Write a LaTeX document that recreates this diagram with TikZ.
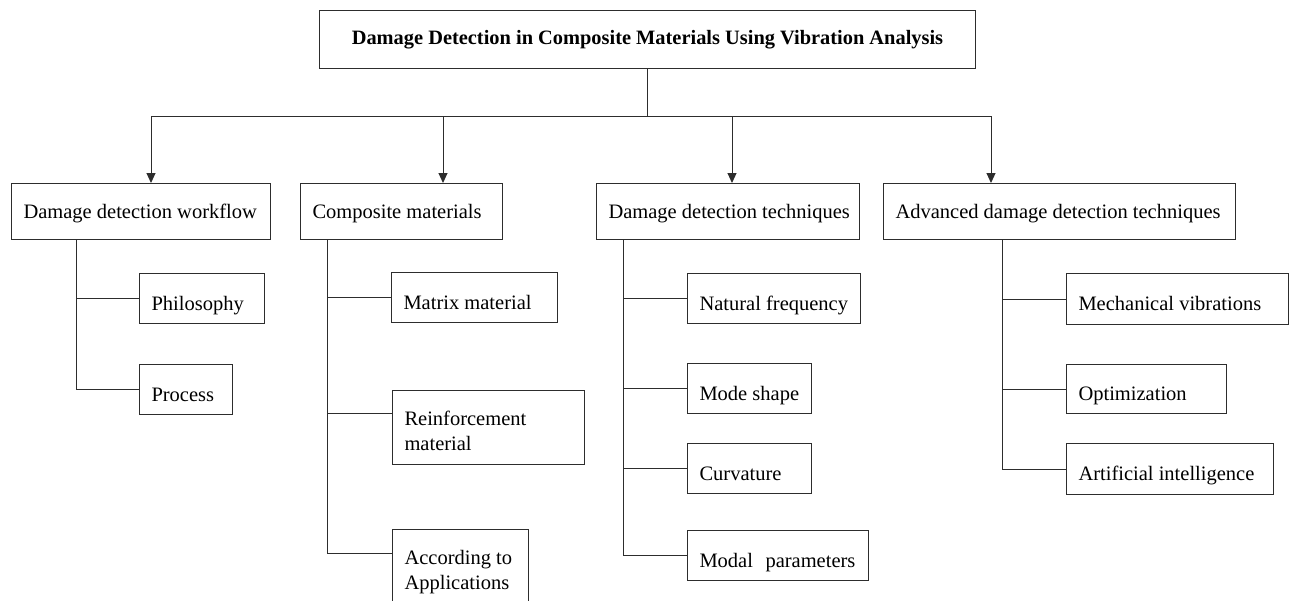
\documentclass[tikz,border=0pt]{standalone}
\usepackage{fontspec}
\setmainfont{Liberation Serif}
\usetikzlibrary{arrows.meta}
\definecolor{lc}{RGB}{45,45,45}
\newcommand\boxtxt[3]{\raisebox{-#1}[0pt][0pt]{\makebox[#2][l]{#3}}}
\newcommand\twolines[2]{\begin{tabular}[t]{@{}l@{}}#1\\#2\end{tabular}}
\begin{document}
\begin{tikzpicture}[x=1pt,y=-1pt,
  ln/.style={draw=lc,line width=1pt},
  arr/.style={ln,-{Triangle[length=10pt,width=9pt]}},
  bx/.style={draw=lc,line width=1pt,rectangle,anchor=north west,inner xsep=12pt,inner ysep=0pt,font=\fontsize{20.5}{25}\selectfont},
  ttl/.style={draw=lc,line width=1pt,rectangle,anchor=north west,inner sep=0pt,font=\fontsize{20.4}{24}\selectfont\bfseries}]
\useasboundingbox (0,0) rectangle (1290,600);
% title
\node[ttl,minimum width=656pt,minimum height=58pt] (title) at (319,10) {\raisebox{-5pt}[0pt][0pt]{Damage Detection in Composite Materials Using Vibration Analysis}};
% level 1
\node[bx,minimum height=56pt] (wf) at (11,183) {\boxtxt{7pt}{235pt}{Damage detection workflow}};
\node[bx,minimum height=56pt] (cm) at (300,183) {\boxtxt{7pt}{178pt}{Composite materials}};
\node[bx,minimum height=56pt] (ddt) at (596,183) {\boxtxt{7pt}{239pt}{Damage detection techniques}};
\node[bx,minimum height=56pt] (adv) at (883,183) {\boxtxt{7pt}{328pt}{Advanced damage detection techniques}};
% children
\node[bx,minimum height=50pt] (phil) at (139,273) {\boxtxt{11.5pt}{101pt}{Philosophy}};
\node[bx,minimum height=50pt] (proc) at (139,364) {\boxtxt{11.5pt}{69pt}{Process}};
\node[bx,minimum height=50pt] (mat) at (391,272) {\boxtxt{11.5pt}{142pt}{Matrix material}};
\node[bx,minimum height=74pt] (rein) at (392,390) {\boxtxt{-2pt}{168pt}{\twolines{Reinforcement}{material}}};
\node[bx,minimum height=85pt] (acc) at (392,529) {\boxtxt{-7.5pt}{112pt}{\twolines{According to}{Applications}}};
\node[bx,minimum height=50pt] (nat) at (687,273) {\boxtxt{11.5pt}{149pt}{Natural frequency}};
\node[bx,minimum height=50pt] (mode) at (687,363) {\boxtxt{11.5pt}{100pt}{Mode shape}};
\node[bx,minimum height=50pt] (curv) at (687,443) {\boxtxt{11.5pt}{100pt}{Curvature}};
\node[bx,minimum height=50pt] (modal) at (687,530) {\boxtxt{11.5pt}{157pt}{Modal\hspace{12.5pt}parameters}};
\node[bx,minimum height=51pt] (mech) at (1066,273) {\boxtxt{11.5pt}{198pt}{Mechanical vibrations}};
\node[bx,minimum height=49pt] (opt) at (1066,364) {\boxtxt{11.5pt}{136pt}{Optimization}};
\node[bx,minimum height=51pt] (ai) at (1066,443) {\boxtxt{11.5pt}{183pt}{Artificial intelligence}};
% bus
\coordinate (b1) at (151,116);
\coordinate (b2) at (443,116);
\coordinate (b3) at (732,116);
\coordinate (b4) at (991,116);
\draw[ln] (title.south) -- (title.south |- b1);
\draw[ln] (b1) -- (b4);
\draw[arr] (b1) -- (b1 |- wf.north);
\draw[arr] (b2) -- (b2 |- cm.north);
\draw[arr] (b3) -- (b3 |- ddt.north);
\draw[arr] (b4) -- (b4 |- adv.north);
% trunks
\coordinate (t1) at (76,0);
\coordinate (t2) at (327,0);
\coordinate (t3) at (623,0);
\coordinate (t4) at (1002,0);
\draw[ln] (t1 |- wf.south) -- (t1 |- proc.west) -- (proc.west);
\draw[ln] (t1 |- phil.west) -- (phil.west);
\coordinate (reinb) at ([yshift=-23pt]rein.north west);
\coordinate (accb) at ([yshift=-24pt]acc.north west);
\draw[ln] (t2 |- cm.south) -- (t2 |- accb) -- (accb);
\draw[ln] (t2 |- mat.west) -- (mat.west);
\draw[ln] (t2 |- reinb) -- (reinb);
\draw[ln] (t3 |- ddt.south) -- (t3 |- modal.west) -- (modal.west);
\draw[ln] (t3 |- nat.west) -- (nat.west);
\draw[ln] (t3 |- mode.west) -- (mode.west);
\draw[ln] (t3 |- curv.west) -- (curv.west);
\draw[ln] (t4 |- adv.south) -- (t4 |- ai.west) -- (ai.west);
\draw[ln] (t4 |- mech.west) -- (mech.west);
\draw[ln] (t4 |- opt.west) -- (opt.west);
\end{tikzpicture}
\end{document}
